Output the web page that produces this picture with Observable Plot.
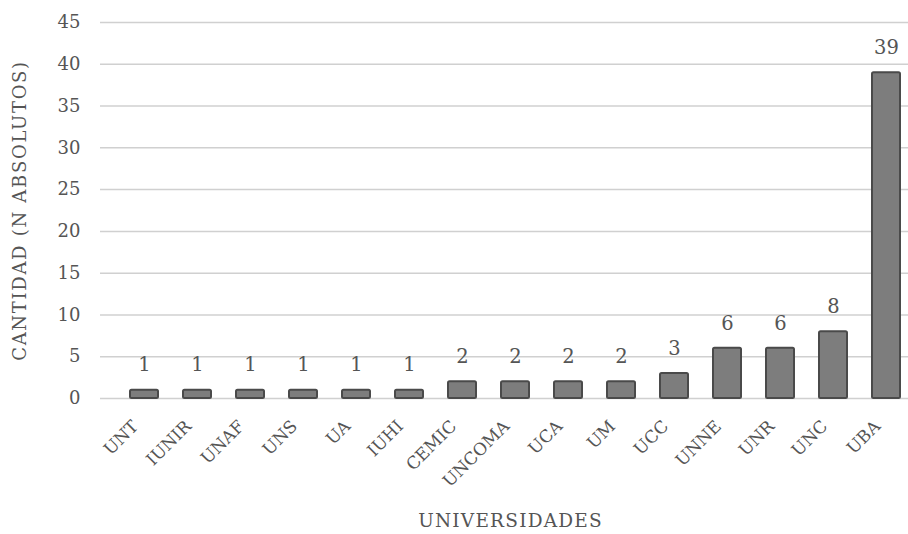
<!DOCTYPE html>
<html><head><meta charset="utf-8">
<script src="https://cdn.jsdelivr.net/npm/d3@7"></script>
<script src="https://cdn.jsdelivr.net/npm/@observablehq/plot@0.6"></script>
<style>body{margin:0;background:#fff}</style>
</head><body><div id="chart"></div>
<script>
const universidades = ["UNT","IUNIR","UNAF","UNS","UA","IUHI","CEMIC","UNCOMA","UCA","UM","UCC","UNNE","UNR","UNC","UBA"];
const cantidades = [1,1,1,1,1,1,2,2,2,2,3,6,6,8,39];
const yTicks = [0,5,10,15,20,25,30,35,40,45];
const yTitle = "CANTIDAD (N ABSOLUTOS)";
const xTitle = "UNIVERSIDADES";
const data = universidades.map((u,i)=>({u, v: cantidades[i]}));

const chart = Plot.plot({
  width: 908, height: 534,
  marginLeft: 100, marginRight: 0, marginTop: 22, marginBottom: 136,
  style: {fontFamily: "DejaVu Serif", color: "#555", background: "#fff"},
  x: {domain: universidades, range: [129, 902], paddingInner: 0.47, paddingOuter: 0, label: null},
  y: {domain: [0,45], ticks: yTicks, label: null},
  marks: [
    Plot.ruleY(yTicks, {stroke: "#d0d0d0", strokeWidth: 1.5}),
    Plot.axisY({ticks: yTicks, tickSize: 0, tickPadding: 20, fontSize: 18, fill: "#555", label: null}),
    Plot.axisX({tickSize: 0, tickRotate: -45, tickPadding: 25, dx: -9, fontSize: 17, fill: "#555", label: null, textAnchor: "end"}),
    Plot.barY(data, {x: "u", y: "v", fill: "#7d7d7d", stroke: "#4a4a4a", strokeWidth: 2, rx: 1.5}),
    Plot.text(data, {x: "u", y: "v", text: d => String(d.v), dy: -25, fontSize: 19.5, fill: "#555"}),
    Plot.text([yTitle], {frameAnchor: "left", textAnchor: "middle", dx: -80, dy: 0, rotate: -90, fontSize: 18, fill: "#555"}),
    Plot.text([xTitle], {frameAnchor: "bottom", dy: 128, dx: 6, fontSize: 18.5, fill: "#555"})
  ]
});
d3.select(chart).selectAll("text").each(function() {
  const t = this.textContent;
  if (t === yTitle) d3.select(this).attr("letter-spacing", 1.7);
  if (t === xTitle) d3.select(this).attr("letter-spacing", 1.2);
});
document.getElementById("chart").appendChild(chart);
</script></body></html>
